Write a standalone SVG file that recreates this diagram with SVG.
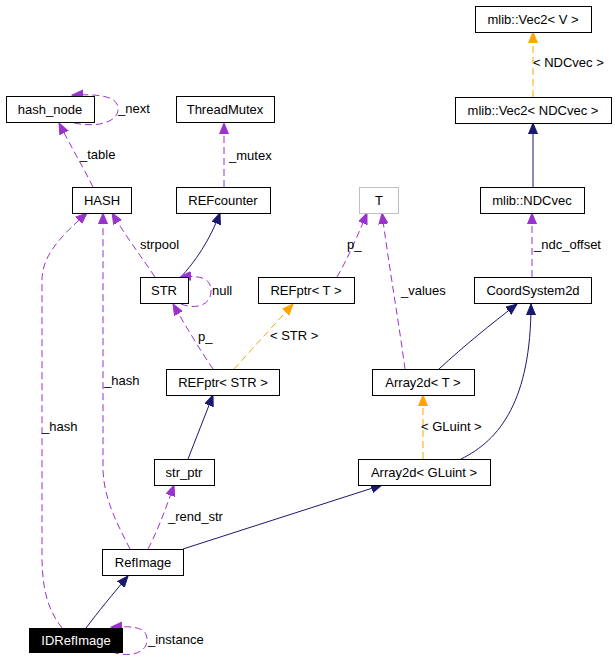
<svg xmlns="http://www.w3.org/2000/svg" width="615" height="661" viewBox="0 0 615 661">
<style>
  .box { fill: #ffffff; stroke: #000000; stroke-width: 1; }
  .grey { fill: #ffffff; stroke: #bfbfbf; stroke-width: 1; }
  .dark { fill: #000000; stroke: #000000; stroke-width: 1; }
  text { font-family: "Liberation Sans", Arial, sans-serif; font-size: 13px; fill: #000000; }
  .nl { text-anchor: middle; }
  .white { fill: #ffffff; }
  .p { fill: none; stroke: #9a32cd; stroke-width: 1; stroke-dasharray: 7,4; }
  .n { fill: none; stroke: #191970; stroke-width: 1; }
  .o { fill: none; stroke: #ffa500; stroke-width: 1; stroke-dasharray: 7,4; }
</style>
<defs>
  <marker id="aP" markerUnits="userSpaceOnUse" markerWidth="12" markerHeight="11" refX="11" refY="5" orient="auto" viewBox="0 0 12 11">
    <path d="M0,0.5 L11,5 L0,9.5 z" fill="#9a32cd" stroke="#9a32cd"/>
  </marker>
  <marker id="aN" markerUnits="userSpaceOnUse" markerWidth="12" markerHeight="11" refX="11" refY="5" orient="auto" viewBox="0 0 12 11">
    <path d="M0,0.5 L11,5 L0,9.5 z" fill="#191970" stroke="#191970"/>
  </marker>
  <marker id="aO" markerUnits="userSpaceOnUse" markerWidth="12" markerHeight="11" refX="11" refY="5" orient="auto" viewBox="0 0 12 11">
    <path d="M0,0.5 L11,5 L0,9.5 z" fill="#ffa500" stroke="#ffa500"/>
  </marker>
</defs>
<rect width="615" height="661" fill="#ffffff"/>

<g id="edges">
  <path class="o" d="M533,97 L533,32" marker-end="url(#aO)"/>
  <text x="533" y="67">&lt; NDCvec &gt;</text>
  <path class="n" d="M533,187 L533,123" marker-end="url(#aN)"/>
  <path class="p" d="M532,277 L532,213" marker-end="url(#aP)"/>
  <text x="534" y="249">_ndc_offset</text>
  <path class="p" d="M337,277 C 348,258 358,235 367,213" marker-end="url(#aP)"/>
  <text x="347" y="249">p_</text>
  <path class="p" d="M405,369 C 400,330 388,260 382,213" marker-end="url(#aP)"/>
  <text x="401" y="295">_values</text>
  <path class="n" d="M439,369 C 465,345 490,325 517,304" marker-end="url(#aN)"/>
  <path class="n" d="M461,459 C 500,440 531,400 531,304" marker-end="url(#aN)"/>
  <path class="o" d="M423,459 L423,395" marker-end="url(#aO)"/>
  <text x="421" y="431">&lt; GLuint &gt;</text>
  <path class="n" d="M183,549 L382,485" marker-end="url(#aN)"/>
  <path class="o" d="M234,369 L293,304" marker-end="url(#aO)"/>
  <text x="270" y="340">&lt; STR &gt;</text>
  <path class="p" d="M213,369 C 200,350 185,325 173,304" marker-end="url(#aP)"/>
  <text x="198" y="341">p_</text>
  <path class="n" d="M188,459 L213,395" marker-end="url(#aN)"/>
  <path class="p" d="M148,549 C 158,530 166,508 174,485" marker-end="url(#aP)"/>
  <text x="168" y="521">_rend_str</text>
  <path class="p" d="M130,549 C 118,525 104,500 103,470 L103,213" marker-end="url(#aP)"/>
  <text x="104" y="385">_hash</text>
  <path class="p" d="M62,628 C 48,610 42,590 42,555 L42,280 C 42,255 62,235 87,213" marker-end="url(#aP)"/>
  <text x="42" y="431">_hash</text>
  <path class="n" d="M86,628 C 98,612 112,595 128,576" marker-end="url(#aN)"/>
  <path class="p" d="M112,652 C 130,658 147,653 147,640 C 147,627 135,626 111,627" marker-end="url(#aP)"/>
  <text x="148" y="644">_instance</text>
  <path class="p" d="M93,187 C 82,165 70,145 59,123" marker-end="url(#aP)"/>
  <text x="80" y="159">_table</text>
  <path class="p" d="M74,123 C 98,128 118,122 118,109 C 118,96 100,94 72,95" marker-end="url(#aP)"/>
  <text x="118" y="113">_next</text>
  <path class="p" d="M155,277 C 140,255 125,235 112,213" marker-end="url(#aP)"/>
  <text x="140" y="249">strpool</text>
  <path class="n" d="M180,278 C 195,262 210,240 220,213" marker-end="url(#aN)"/>
  <path class="p" d="M181,304 C 196,310 211,305 211,291 C 211,278 200,275 180,277" marker-end="url(#aP)"/>
  <text x="212" y="295">null</text>
  <path class="p" d="M224,187 L224,123" marker-end="url(#aP)"/>
  <text x="229" y="160">_mutex</text>
</g>

<g id="node-vec2v"><rect class="box" x="475.5" y="6.5" width="116" height="26"/><text class="nl" x="533" y="24">mlib::Vec2&lt; V &gt;</text></g>
<g id="node-vec2ndc"><rect class="box" x="455.5" y="97.5" width="156" height="26"/><text class="nl" x="533" y="115">mlib::Vec2&lt; NDCvec &gt;</text></g>
<g id="node-ndcvec"><rect class="box" x="480.5" y="187.5" width="104" height="26"/><text class="nl" x="532" y="205">mlib::NDCvec</text></g>
<g id="node-t"><rect class="grey" x="359.5" y="187.5" width="39" height="26"/><text class="nl" x="379" y="205">T</text></g>
<g id="node-coord"><rect class="box" x="474.5" y="277.5" width="117" height="26"/><text class="nl" x="533" y="295">CoordSystem2d</text></g>
<g id="node-hashnode"><rect class="box" x="6.5" y="96.5" width="88" height="26"/><text class="nl" x="50" y="114">hash_node</text></g>
<g id="node-threadmutex"><rect class="box" x="176.5" y="96.5" width="98" height="26"/><text class="nl" x="225" y="114">ThreadMutex</text></g>
<g id="node-hash"><rect class="box" x="72.5" y="187.5" width="59" height="26"/><text class="nl" x="102" y="205">HASH</text></g>
<g id="node-refcounter"><rect class="box" x="176.5" y="187.5" width="94" height="26"/><text class="nl" x="223" y="205">REFcounter</text></g>
<g id="node-str"><rect class="box" x="140.5" y="277.5" width="48" height="26"/><text class="nl" x="164" y="295">STR</text></g>
<g id="node-refptrt"><rect class="box" x="258.5" y="277.5" width="96" height="26"/><text class="nl" x="306" y="295">REFptr&lt; T &gt;</text></g>
<g id="node-refptrstr"><rect class="box" x="166.5" y="369.5" width="113" height="26"/><text class="nl" x="223" y="387">REFptr&lt; STR &gt;</text></g>
<g id="node-array2dt"><rect class="box" x="372.5" y="369.5" width="102" height="26"/><text class="nl" x="423" y="387">Array2d&lt; T &gt;</text></g>
<g id="node-strptr"><rect class="box" x="154.5" y="459.5" width="60" height="26"/><text class="nl" x="184" y="477">str_ptr</text></g>
<g id="node-array2dgl"><rect class="box" x="358.5" y="459.5" width="132" height="26"/><text class="nl" x="424" y="477">Array2d&lt; GLuint &gt;</text></g>
<g id="node-refimage"><rect class="box" x="102.5" y="549.5" width="81" height="26"/><text class="nl" x="143" y="567">RefImage</text></g>
<g id="node-idrefimage"><rect class="dark" x="29.5" y="628.5" width="93" height="24"/><text class="nl white" x="76" y="645">IDRefImage</text></g>
</svg>
